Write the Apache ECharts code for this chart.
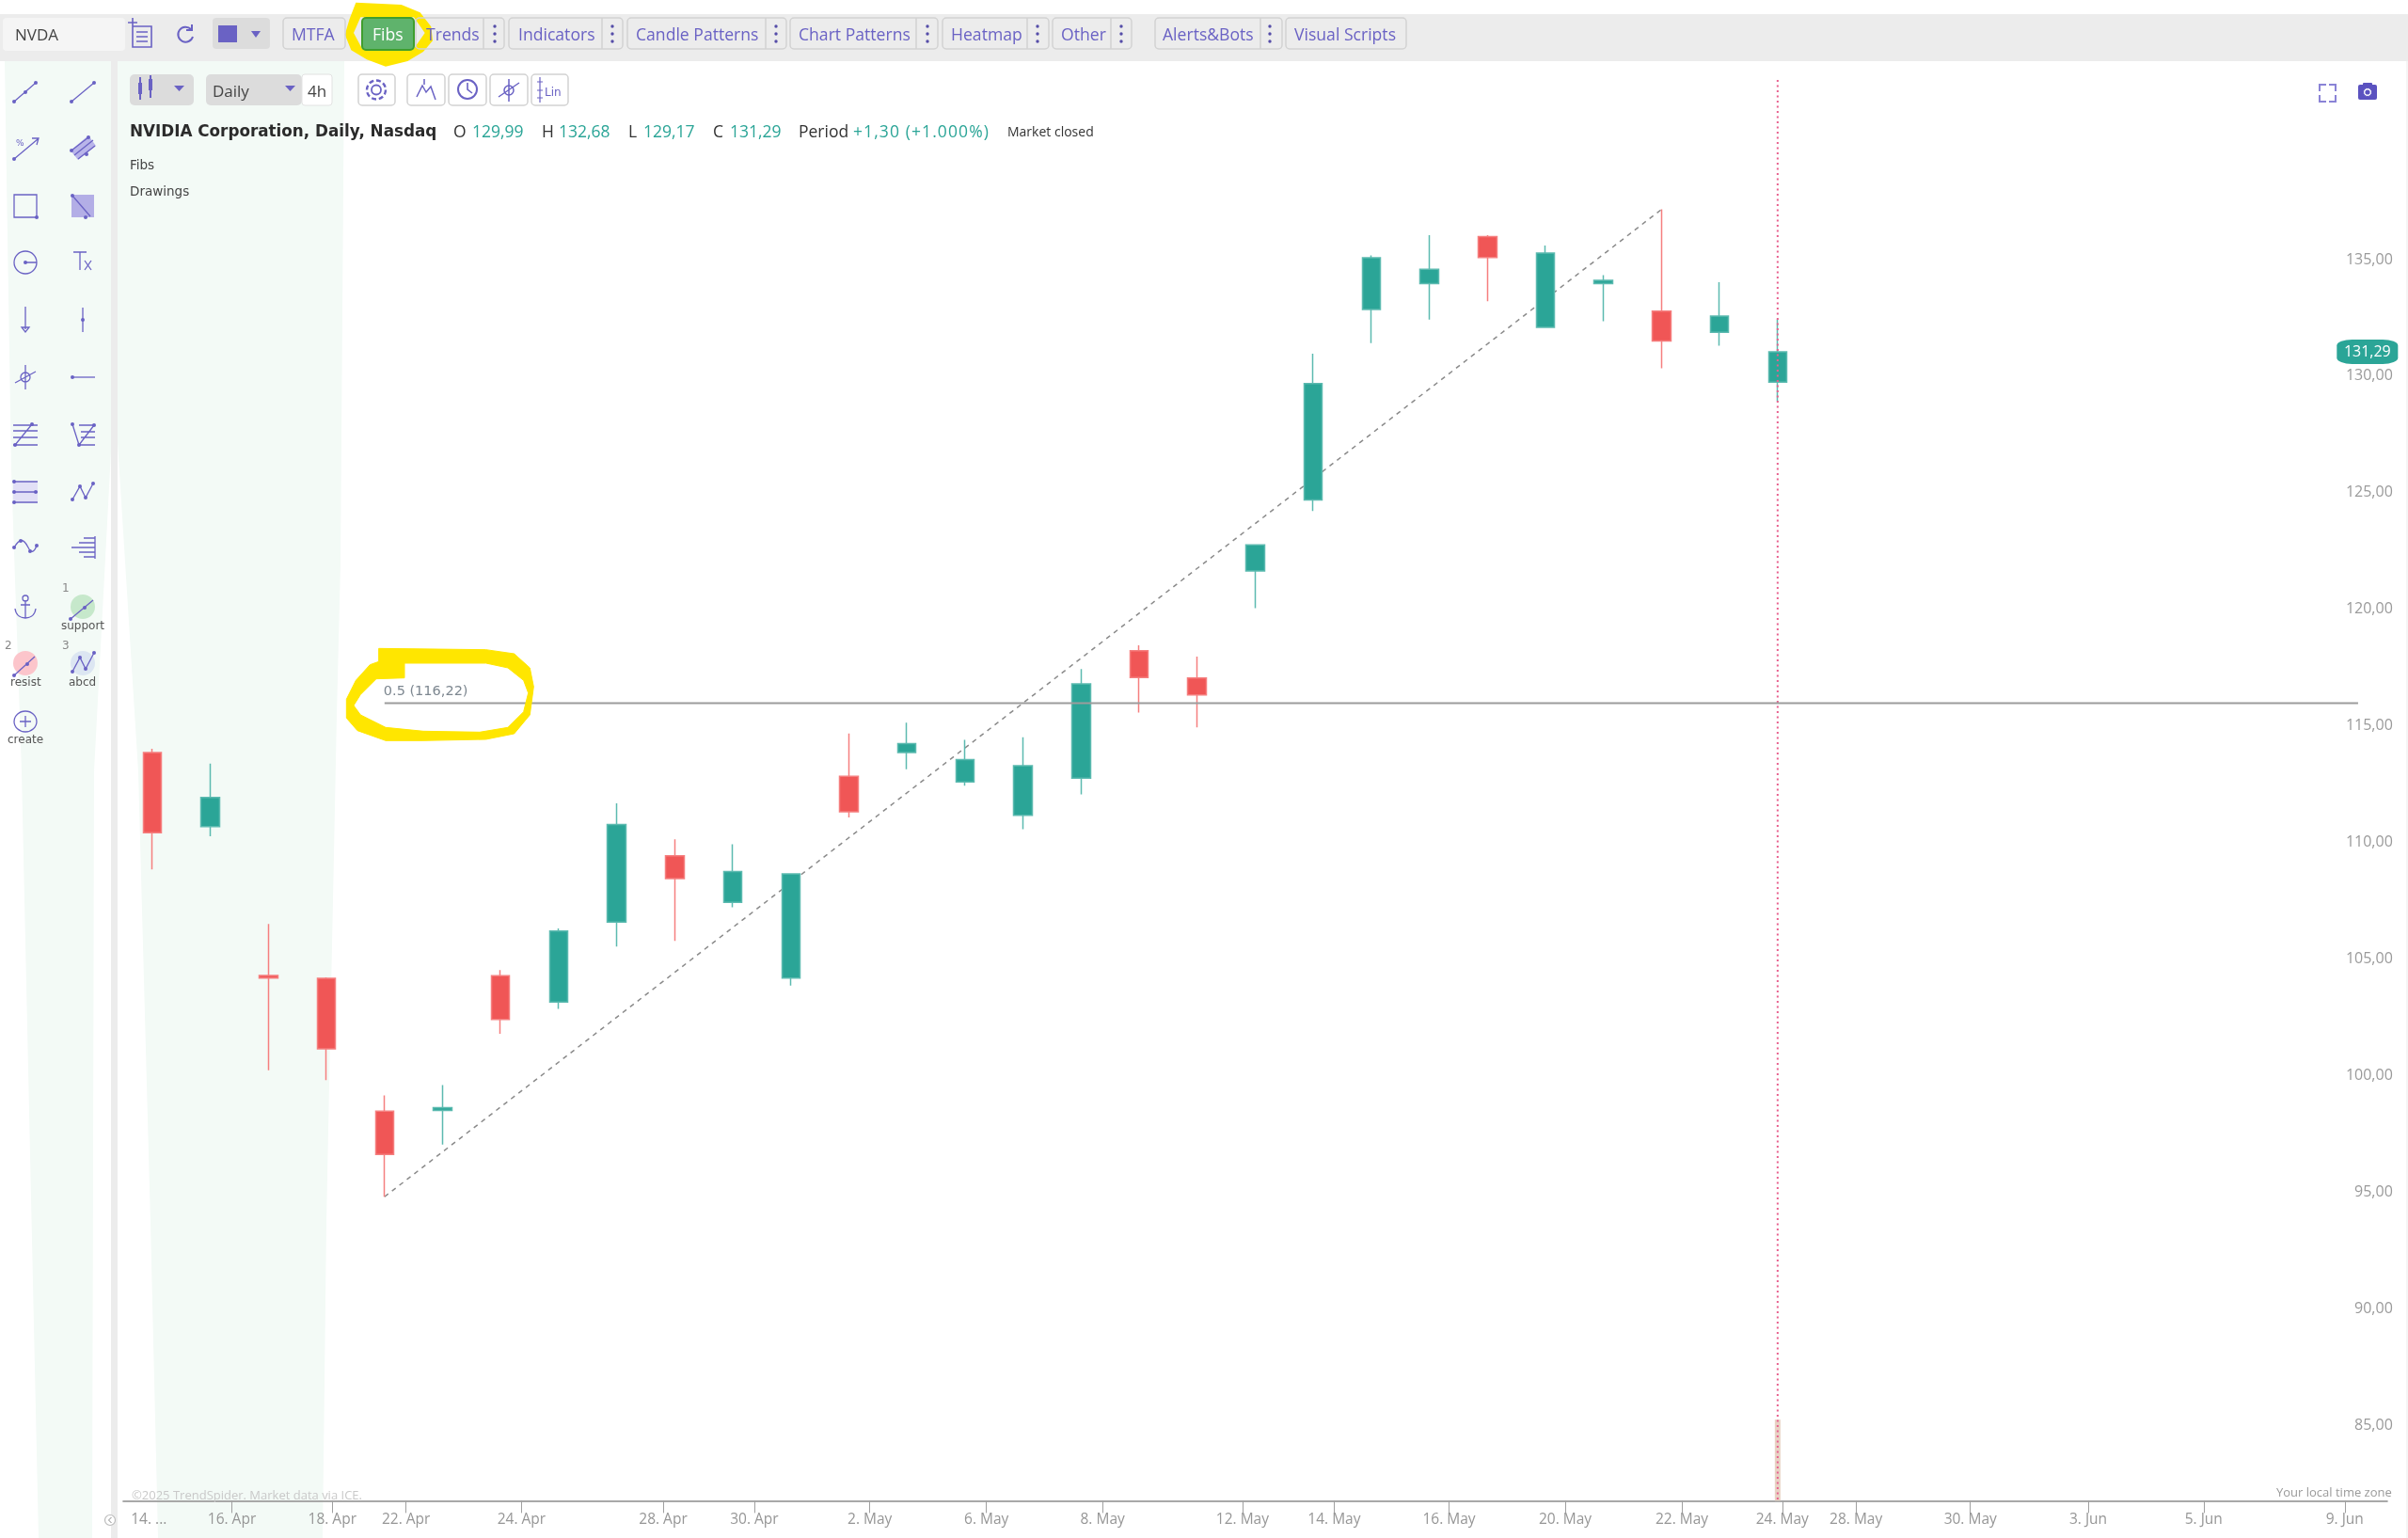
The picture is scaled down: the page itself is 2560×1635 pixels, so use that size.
<!DOCTYPE html>
<html>
<head>
<meta charset="utf-8">
<title>NVDA Daily</title>
<style>
  html, body { margin: 0; padding: 0; background: #fff; width: 2560px; height: 1635px; overflow: hidden; }
  #back, #front { position: absolute; left: 0; top: 0; width: 2560px; height: 1635px; pointer-events: none; }
  #chart { position: absolute; left: 0; top: 0; width: 2560px; height: 1635px; }
  #texts div { position: absolute; white-space: nowrap; transform: translateY(-50%); font-family: 'Open Sans', sans-serif; }
  .btn { font-size: 17.6px; color: #6a62c4; }
  .dark { font-size: 17px; color: #444; }
  .teal { font-size: 17.5px; color: #2ba597; }
  .val { font-size: 17.5px; color: #333; }
  .tool { font-family: 'DejaVu Sans', sans-serif !important; font-size: 12px; color: #555; }
</style>
<script src="https://cdn.jsdelivr.net/npm/echarts@6/dist/echarts.min.js"></script>
</head>
<body>
<svg id="back" viewBox="0 0 2560 1635">
  <!-- 顶部工具条和左侧分隔条 -->
  <rect x="0" y="15" width="2560" height="50" fill="#ececec"/>
  <rect x="118" y="65" width="7" height="1570" fill="#ececec"/>
  <rect x="2558" y="65" width="2" height="1570" fill="#f5f5f5"/>
  <rect x="3" y="19" width="130" height="35" rx="4" fill="#f5f5f5"/>
  <!-- 浅绿色底 -->
  <polygon fill="#f3faf6" points="5,65 118,65 118,480 100,820 98,1635 41,1635 23,820 12,500"/>
  <polygon fill="#f3faf6" points="125,65 366,65 362,600 358,760 347,1300 343,1635 168,1635 160,1300 147,820 125,470"/>
</svg>
<div id="chart"></div>
<svg id="front" viewBox="0 0 2560 1635"></svg>
<div id="texts"></div>
<script>
  // K线数据（开 收 低 高）
  var opens  = [114.10, 110.92, 104.53, 104.41, 98.71, 98.74, 104.52, 103.39, 106.82, 109.67, 107.67, 104.42, 113.08, 114.10, 112.84, 111.40, 113.00, 118.47, 117.30, 121.89, 124.93, 133.10, 134.21, 136.23, 132.34, 134.21, 133.03, 132.13, 129.99];
  var closes = [110.66, 112.17, 104.42, 101.39, 96.86, 98.86, 102.65, 106.44, 111.01, 108.69, 108.99, 108.89, 111.56, 114.48, 113.79, 113.53, 117.04, 117.32, 116.57, 123.01, 129.93, 135.32, 134.83, 135.33, 135.53, 134.36, 131.75, 132.82, 131.29];
  var lows   = [109.08, 110.51, 100.47, 100.04, 95.04, 97.28, 102.03, 103.10, 105.77, 106.02, 107.46, 104.10, 111.31, 113.38, 112.68, 110.81, 112.30, 115.81, 115.18, 120.29, 124.46, 131.66, 132.67, 133.46, 132.34, 132.60, 130.58, 131.55, 129.17];
  var highs  = [114.26, 113.62, 106.74, 104.45, 99.39, 99.83, 104.77, 106.55, 111.92, 110.38, 110.16, 108.89, 114.91, 115.38, 114.64, 114.75, 117.68, 118.70, 118.21, 123.01, 131.21, 135.42, 136.29, 136.29, 135.85, 134.58, 137.40, 134.27, 132.68];

  // x轴刻度文字和它们在K线序号上的位置
  var xTickLabels = ['14. ...', '16. Apr', '18. Apr', '22. Apr', '24. Apr', '28. Apr', '30. Apr', '2. May', '6. May', '8. May', '12. May', '14. May', '16. May', '20. May', '22. May', '24. May', '28. May', '30. May', '3. Jun', '5. Jun', '9. Jun'];
  var xTickSessions = [-0.06, 1.37, 3.10, 4.37, 6.36, 8.80, 10.37, 12.36, 14.37, 16.37, 18.78, 20.36, 22.34, 24.34, 26.35, 28.08, 29.35, 31.32, 33.35, 35.34, 37.77];
  var yTicks = [85, 90, 95, 100, 105, 110, 115, 120, 125, 130, 135];

  // 画线工具
  var fibTrend = [[4, 95.04], [26, 137.40]];
  var fibLevel = [[4, 116.22], [38, 116.22]];
  var cursorLine = [[28, 142.95], [28, 82]];
  var lastVolume = [[28, 85.48]];
  var lastPrice = [[38.16, 131.29]];

  var candleData = opens.map(function (o, i) {
    return [i, o, closes[i], lows[i], highs[i]];
  });

  function price(v) {
    return v.toFixed(2).replace('.', ',');
  }

  var myChart = echarts.init(document.getElementById('chart'), null, { renderer: 'canvas' });
  var option = {
    animation: false,
    backgroundColor: 'transparent',
    textStyle: { fontFamily: 'Open Sans' },
    grid: { left: 131.1, right: 22.2, top: 59, bottom: 39.6 },
    xAxis: {
      type: 'value',
      min: -0.5,
      max: 38.5,
      splitLine: { show: false },
      axisLine: { show: true, lineStyle: { color: '#a8a8a8', width: 2 } },
      axisTick: {
        show: true,
        length: 13,
        lineStyle: { color: '#a0a0a0', width: 1 },
        customValues: xTickSessions.slice(1)
      },
      axisLabel: {
        color: '#969696',
        fontSize: 15.5,
        margin: 12,
        customValues: xTickSessions,
        formatter: function (v) {
          return xTickLabels[xTickSessions.indexOf(v)];
        }
      }
    },
    yAxis: {
      type: 'value',
      position: 'right',
      offset: 6,
      min: 82,
      max: 144,
      splitLine: { show: false },
      axisLine: { show: false },
      axisTick: { show: false },
      axisLabel: {
        inside: true,
        margin: 0,
        color: '#9a9a9a',
        fontSize: 16,
        lineHeight: 12,
        verticalAlign: 'bottom',
        customValues: yTicks,
        formatter: function (v) {
          return price(v);
        }
      }
    },
    series: [
      {
        type: 'bar',
        data: lastVolume,
        barWidth: 6,
        silent: true,
        itemStyle: { color: '#e8d2c4' }
      },
      {
        type: 'line',
        data: cursorLine,
        symbol: 'none',
        silent: true,
        lineStyle: { color: '#e8608e', width: 2, type: [2, 3.5] }
      },
      {
        type: 'line',
        data: fibLevel.map(function (p, i) {
          return i === 0 ? {
            value: p,
            label: {
              show: true,
              position: 'top',
              align: 'left',
              distance: 5,
              offset: [-1, 0],
              color: '#7d8790',
              fontSize: 14.5,
              fontFamily: 'DejaVu Sans',
              formatter: '0.5 (116,22)'
            }
          } : { value: p };
        }),
        symbol: 'circle',
        symbolSize: 0,
        showSymbol: true,
        showAllSymbol: true,
        silent: true,
        lineStyle: { color: '#9c9c9c', width: 2 }
      },
      {
        type: 'candlestick',
        data: candleData,
        barWidth: 20,
        silent: true,
        itemStyle: {
          color: '#2ba597',
          color0: '#f05656',
          borderColor: '#5cbab0',
          borderColor0: '#f57f7f',
          borderWidth: 1.5
        }
      },
      {
        type: 'line',
        data: fibTrend,
        symbol: 'none',
        silent: true,
        z: 1,
        lineStyle: { color: '#8a8a8a', width: 1.5, type: [5, 5] }
      },
      {
        type: 'scatter',
        data: lastPrice,
        symbol: 'roundRect',
        symbolSize: [65, 26],
        clip: false,
        silent: true,
        itemStyle: { color: '#2ba597', opacity: 1 },
        label: {
          show: true,
          position: 'inside',
          color: '#fff',
          fontSize: 16,
          formatter: function (p) {
            return price(p.value[1]);
          }
        }
      }
    ]
  };
  myChart.setOption(option);
  window.addEventListener('resize', function () {
    myChart.resize();
  });

  // 页面上的文字
  var texts = document.getElementById('texts');
  function addText(x, y, str, cls, extra) {
    var d = document.createElement('div');
    d.textContent = str;
    d.className = cls || '';
    d.style.left = x + 'px';
    d.style.top = y + 'px';
    if (extra) d.style.cssText += extra;
    texts.appendChild(d);
  }
  addText(16, 36, 'NVDA', 'dark');
  addText(310, 36, 'MTFA', 'btn');
  addText(396, 36, 'Fibs', 'btn', 'color:#fff;');
  addText(453, 36, 'Trends', 'btn');
  addText(551, 36, 'Indicators', 'btn');
  addText(676, 36, 'Candle Patterns', 'btn');
  addText(849, 36, 'Chart Patterns', 'btn');
  addText(1011, 36, 'Heatmap', 'btn');
  addText(1128, 36, 'Other', 'btn');
  addText(1236, 36, 'Alerts&Bots', 'btn');
  addText(1376, 36, 'Visual Scripts', 'btn');
  addText(226, 96, 'Daily', 'dark');
  addText(327, 96, '4h', 'dark');
  addText(138, 139, 'NVIDIA Corporation, Daily, Nasdaq', '', "font-family:'DejaVu Sans';font-weight:bold;font-size:16.8px;color:#2b2b2b;");
  addText(482, 139, 'O', 'val');
  addText(502, 139, '129,99', 'teal');
  addText(576, 139, 'H', 'val');
  addText(594, 139, '132,68', 'teal');
  addText(668, 139, 'L', 'val');
  addText(684, 139, '129,17', 'teal');
  addText(758, 139, 'C', 'val');
  addText(776, 139, '131,29', 'teal');
  addText(849, 139, 'Period', 'val');
  addText(907, 139, '+1,30 (+1.000%)', 'teal', 'letter-spacing:1.1px;');
  addText(1071, 139, 'Market closed', 'val', 'font-size:14px;');
  addText(138, 175, 'Fibs', '', "font-family:'DejaVu Sans';font-size:13.5px;color:#444;");
  addText(138, 203, 'Drawings', '', "font-family:'DejaVu Sans';font-size:13.5px;color:#444;");
  addText(140, 1589, '©2025 TrendSpider. Market data via ICE.', '', 'font-size:13px;color:#c9c9c9;');
  addText(2420, 1586, 'Your local time zone', '', 'font-size:13px;color:#9a9a9a;');
  addText(66, 625, '1', 'tool', 'color:#888;');
  addText(5, 686, '2', 'tool', 'color:#888;');
  addText(66, 686, '3', 'tool', 'color:#888;');
  addText(65, 665, 'support', 'tool');
  addText(11, 725, 'resist', 'tool');
  addText(73, 725, 'abcd', 'tool');
  addText(8, 786, 'create', 'tool');

  // 工具条按钮和图标
  var P = '#6a62c4';
  var toolbarBoxes = [[301, 367], [442, 536], [541, 662], [667, 836], [840, 997], [1002, 1115], [1119, 1203], [1228, 1363], [1367, 1495]];
  var toolbarDividers = [514, 640, 814, 974, 1092, 1181, 1340];
  var toolbarDots = [526, 651, 825, 986, 1103, 1192, 1350];
  var s = '';

  // 黄色手绘圈
  s += '<path fill="#ffe600" fill-rule="evenodd" transform="translate(350,0) scale(0.3333)" d="M85,8 L230,15 L290,40 L325,85 L330,130 L300,165 L250,195 L180,212 L120,190 L70,160 L50,110 L65,60 Z M100,55 L78,105 L105,155 L270,155 L305,105 L270,55 Z"/>';
  s += '<path fill="#ffe600" fill-rule="evenodd" stroke="#ffe600" stroke-width="3" stroke-linejoin="round" transform="translate(350,670) scale(0.3333)" d="M158,58 L500,62 L590,75 L640,120 L652,180 L640,270 L590,330 L500,348 L300,352 L180,352 L90,320 L55,280 L55,220 L85,160 L130,110 L158,100 Z M240,105 L240,152 L150,155 L100,205 L78,240 L100,270 L180,310 L300,322 L480,325 L570,310 L620,260 L635,200 L620,160 L570,120 L500,105 Z"/>';

  toolbarBoxes.forEach(function (b) {
    s += '<rect x="' + b[0] + '" y="19" width="' + (b[1] - b[0]) + '" height="33" rx="4" fill="none" stroke="#d2d2d2" stroke-width="1.5"/>';
  });
  toolbarDividers.forEach(function (x) {
    s += '<line x1="' + x + '" x2="' + x + '" y1="19" y2="52" stroke="#d2d2d2" stroke-width="1.5"/>';
  });
  toolbarDots.forEach(function (x) {
    [28, 36, 44].forEach(function (y) {
      s += '<circle cx="' + x + '" cy="' + y + '" r="1.7" fill="#554da8"/>';
    });
  });
  s += '<rect x="385" y="19" width="55" height="34" rx="4" fill="#5fb36c" stroke="#3f9e2e" stroke-width="2"/>';
  // 列表图标、刷新、颜色块
  s += '<path fill="none" stroke="' + P + '" stroke-width="1.6" d="M141,28 h20 v22 h-20 z M145,34 h12 M145,39 h12 M145,44 h12 M136,24 h10 M141,19 v10"/>';
  s += '<path fill="none" stroke="' + P + '" stroke-width="2" d="M203,31 a8,8 0 1 0 2,8 M204,26 v6 h-6"/>';
  s += '<rect x="226" y="19" width="61" height="33" rx="4" fill="#dcdcdc"/><rect x="232" y="27" width="20" height="18" fill="' + P + '"/><path d="M267,33 h10 l-5,7 z" fill="' + P + '"/>';
  // 第二排
  s += '<rect x="138" y="79" width="68" height="33" rx="5" fill="#dcdcdc"/>';
  s += '<path stroke="' + P + '" stroke-width="2" d="M149,82 v24 M160,80 v24"/><rect x="147" y="88" width="4" height="12" fill="' + P + '"/><rect x="158" y="84" width="4" height="12" fill="' + P + '"/><path d="M185,91 h11 l-5.5,6 z" fill="' + P + '"/>';
  s += '<rect x="219" y="79" width="102" height="33" rx="5" fill="#dcdcdc"/><path d="M303,91 h11 l-5.5,6 z" fill="' + P + '"/>';
  s += '<rect x="321" y="79" width="32" height="33" rx="3" fill="#fff" stroke="#e2e2e2"/>';
  [[381, 420], [433, 473], [477, 517], [521, 561], [565, 604]].forEach(function (b) {
    s += '<rect x="' + b[0] + '" y="79" width="' + (b[1] - b[0]) + '" height="33" rx="4" fill="#fff" stroke="#d2d2d2" stroke-width="1.5"/>';
  });
  s += '<circle cx="400" cy="95.5" r="5" fill="none" stroke="' + P + '" stroke-width="1.8"/><circle cx="400" cy="95.5" r="10" fill="none" stroke="' + P + '" stroke-width="2.4" stroke-dasharray="5 2.8"/>';
  s += '<path fill="none" stroke="' + P + '" stroke-width="1.5" d="M443,103 L449,91 L453,98 L458,92 L463,106 M451,84 v6"/>';
  s += '<circle cx="497" cy="95" r="10" fill="none" stroke="' + P + '" stroke-width="2"/><path fill="none" stroke="' + P + '" stroke-width="1.6" d="M497,88 v7 l5,4"/>';
  s += '<circle cx="541" cy="96" r="5" fill="none" stroke="' + P + '" stroke-width="1.5"/><path fill="none" stroke="' + P + '" stroke-width="1.5" d="M541,84 v24 M530,103 L552,88"/>';
  s += '<path fill="none" stroke="' + P + '" stroke-width="1.2" d="M574,82 v27 M571,87 h6 M571,96 h6 M571,104 h6"/><text x="579" y="102" font-family="DejaVu Sans" font-size="12" fill="' + P + '">Lin</text>';
  // 右上角
  s += '<path fill="none" stroke="#8a83d6" stroke-width="2" d="M2466,97 v-7 h7 M2476,90 h7 v7 M2483,101 v7 h-7 M2473,108 h-7 v-7"/>';
  s += '<rect x="2507" y="90" width="20" height="16" rx="2" fill="#5b52c0"/><rect x="2512" y="88" width="10" height="4" rx="1" fill="#5b52c0"/><circle cx="2517" cy="98" r="4.5" fill="#fff" stroke="#5b52c0" stroke-width="1"/><circle cx="2517" cy="98" r="2.6" fill="#5b52c0"/>';
  // 底部左侧的小圆箭头
  s += '<circle cx="117" cy="1616" r="5.5" fill="#fff" stroke="#bbb" stroke-width="1.2"/><path d="M118.5,1613 l-3,3 l3,3" fill="none" stroke="#888"/>';

  // 左侧画线工具图标，每个以自身中心为原点
  function dots(list) {
    return list.map(function (d) {
      return '<circle cx="' + d[0] + '" cy="' + d[1] + '" r="2" fill="' + P + '"/>';
    }).join('');
  }
  function icon(cx, cy, path, extra) {
    s += '<g transform="translate(' + cx + ',' + cy + ')">' + (extra || '') + '<path fill="none" stroke="' + P + '" stroke-width="1.3" d="' + path + '"/></g>';
  }
  icon(27, 98, 'M-12,10 L11,-10', dots([[-12, 10], [0, 0], [11, -10]]));
  icon(88, 98, 'M-12,10 L12,-10', dots([[-12, 10], [12, -10]]));
  icon(27, 157, 'M-12,12 L13,-9 M7,-10 L14,-10 L12,-3', dots([[-12, 12]]) + '<text x="-10" y="-2" font-family="DejaVu Sans" font-size="9" fill="' + P + '">%</text>');
  icon(88, 157, 'M-12,3 L6,-11 M-9,8 L11,-8 M-5,12 L13,-2', '<polygon points="-13,3 6,-13 14,-2 -5,13" fill="#b9b5ea"/>' + dots([[-12, 3], [6, -11], [4, 7]]));
  icon(27, 219, 'M-12,-12 H12 V12 H-12 Z', dots([[12, 12]]));
  icon(88, 219, 'M-11,-11 L8,11', '<rect x="-12" y="-12" width="24" height="24" fill="#b3aee6"/>' + dots([[-11, -11], [3, 12]]));
  icon(27, 279, 'M0,0 H12 M12,0 A12,12 0 1 0 -12,0 A12,12 0 1 0 12,0', dots([[0, 0]]));
  icon(88, 279, 'M-10,-11 H4 M-3,-11 V8 M2,-2 L9,8 M9,-2 L2,8');
  icon(27, 340, 'M0,-14 V10 M-4,8 H4 L0,13 Z');
  icon(88, 340, 'M0,-13 V13', dots([[0, 0]]));
  icon(27, 401, 'M0,-13 V13 M-11,6 L11,-6 M5,0 A5,5 0 1 0 -5,0 A5,5 0 1 0 5,0');
  icon(88, 401, 'M-11,0 H13', dots([[-11, 0]]));
  icon(27, 462, 'M-13,-10 H13 M-13,-4 H13 M-13,3 H13 M-13,11 H13 M-11,11 L7,-11', dots([[-11, 11], [7, -11]]));
  icon(88, 462, 'M-4,-10 H13 M-2,-3 H13 M-2,3 H13 M-4,11 H13 M-11,-11 L-4,11 L12,-10', dots([[-11, -11], [-4, 11], [12, -10]]));
  icon(27, 523, 'M-13,-11 H13 M-13,0 H13 M-13,11 H13', '<rect x="-13" y="-11" width="26" height="22" fill="#e2e0f6"/>' + dots([[-12, -11], [-12, 0], [11, 0], [-12, 11]]));
  icon(88, 523, 'M-11,8 L-3,-6 L3,6 L11,-9', dots([[-11, 8], [-3, -6], [3, 6], [11, -9]]));
  icon(27, 582, 'M-12,0 C-6,-10 -2,-10 3,0 C6,6 9,6 12,-2', dots([[-12, 0], [-5, -7], [5, 4], [12, -2]]));
  icon(88, 582, 'M13,-12 V12 M1,-10 H13 M-4,-5 H13 M-12,0 H13 M-4,5 H13 M1,10 H13');
  icon(27, 645, 'M0,-7 V12 M-11,2 C-10,10 -4,12 0,12 C4,12 10,10 11,2 M-5,-2 H5 M3,-9 A3,3 0 1 0 -3,-9 A3,3 0 1 0 3,-9');
  icon(88, 645, 'M-13,13 L11,-7', '<ellipse cx="0" cy="0" rx="13" ry="13" fill="#c6e8cb"/>' + dots([[-13, 13], [2, 1]]));
  icon(27, 705, 'M-12,13 L10,-7', '<ellipse cx="0" cy="0" rx="13" ry="13" fill="#fcc5cb"/>' + dots([[-12, 13], [2, 1]]));
  icon(88, 705, 'M-11,9 L-3,-6 L3,6 L12,-11', '<ellipse cx="0" cy="0" rx="13" ry="13" fill="#dce6f2"/>' + dots([[-11, 9], [-3, -6], [3, 6], [12, -11]]));
  icon(27, 767, 'M12,0 A12,11 0 1 0 -12,0 A12,11 0 1 0 12,0 M-6,0 H6 M0,-6 V6');

  document.getElementById('front').innerHTML = s;
</script>
</body>
</html>
